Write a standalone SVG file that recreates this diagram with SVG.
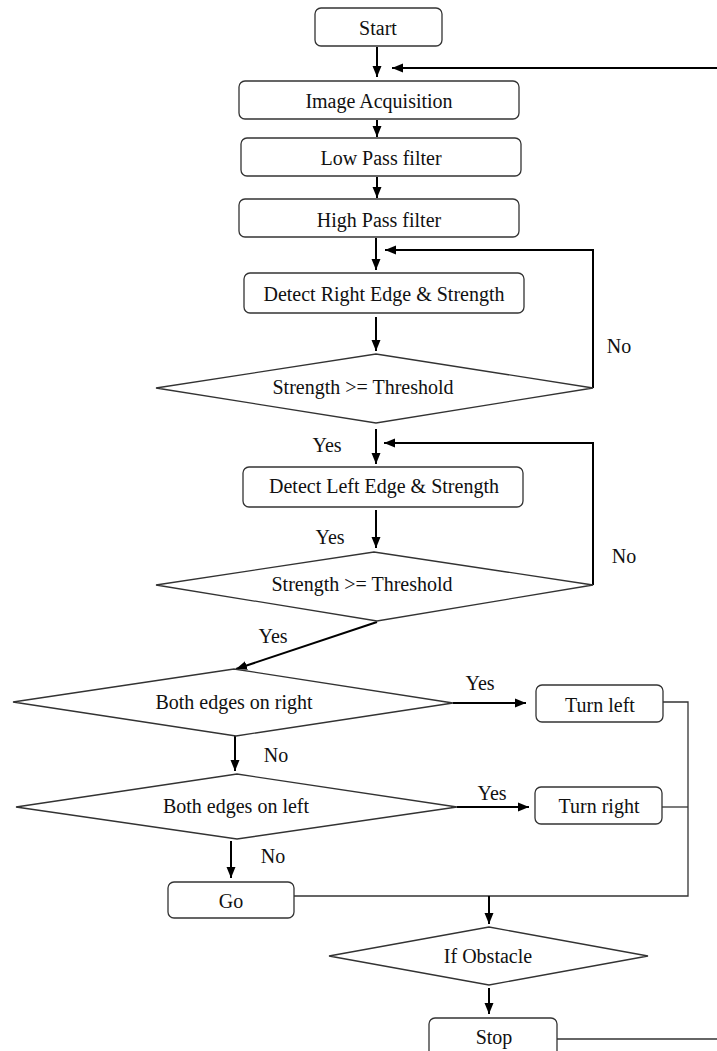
<svg xmlns="http://www.w3.org/2000/svg" width="717" height="1051" viewBox="0 0 717 1051">
<style>
.box{fill:#fff;stroke:#333;stroke-width:1.3}
.dia{fill:#fff;stroke:#333;stroke-width:1.3}
.t{font-family:'Liberation Serif','Times New Roman',serif;font-size:20px;fill:#111;text-anchor:middle}
.arr{fill:none;stroke:#000;stroke-width:2;marker-end:url(#ah)}
.thin{fill:none;stroke:#333;stroke-width:1.3}
</style>
<defs>
<marker id="ah" markerUnits="userSpaceOnUse" markerWidth="12" markerHeight="10" refX="11" refY="5" orient="auto">
<path d="M0,0.5 L11,5 L0,9.5 z" fill="#000"/>
</marker>
</defs>
<rect width="717" height="1051" fill="#fff"/>
<g id="connectors">
<line class="arr" x1="377" y1="47" x2="377" y2="77"/>
<line class="arr" x1="717" y1="68" x2="392" y2="68"/>
<line class="arr" x1="377" y1="120" x2="377" y2="137"/>
<line class="arr" x1="377" y1="177" x2="377" y2="198"/>
<line class="arr" x1="376" y1="238" x2="376" y2="270"/>
<polyline class="arr" points="593,388 593,250 385,250"/>
<line class="arr" x1="376" y1="317" x2="376" y2="351"/>
<line class="arr" x1="376" y1="429" x2="376" y2="464"/>
<polyline class="arr" points="593,585 593,443 384,443"/>
<line class="arr" x1="376" y1="510" x2="376" y2="548"/>
<line class="arr" x1="377" y1="622" x2="236" y2="669"/>
<line class="arr" x1="453" y1="703" x2="526" y2="703"/>
<line class="arr" x1="235" y1="736" x2="235" y2="771"/>
<line class="arr" x1="457" y1="807" x2="529" y2="807"/>
<line class="arr" x1="231" y1="841" x2="231" y2="878"/>
<polyline class="thin" points="663,702 688,702 688,896 294,896"/>
<line class="thin" x1="662" y1="807" x2="688" y2="807"/>
<line class="arr" x1="489" y1="896" x2="489" y2="924"/>
<line class="arr" x1="489" y1="988" x2="489" y2="1014"/>
<line class="thin" x1="557" y1="1039" x2="717" y2="1039"/>
</g>
<g id="start"><rect class="box" x="315" y="8" width="127" height="38" rx="6"/><text class="t" x="378" y="35">Start</text></g>
<g id="acq"><rect class="box" x="239" y="81" width="280" height="38" rx="6"/><text class="t" x="379" y="108">Image Acquisition</text></g>
<g id="lpf"><rect class="box" x="241" y="138" width="280" height="38" rx="6"/><text class="t" x="381" y="165">Low Pass filter</text></g>
<g id="hpf"><rect class="box" x="239" y="199" width="280" height="38" rx="6"/><text class="t" x="379" y="227">High Pass filter</text></g>
<g id="right-edge"><rect class="box" x="244" y="273" width="280" height="40" rx="6"/><text class="t" x="384" y="301">Detect Right Edge &amp; Strength</text></g>
<g id="thr1"><polygon class="dia" points="156,388 376,354 593,388 376,423"/><text class="t" x="363" y="394">Strength &gt;= Threshold</text></g>
<g id="left-edge"><rect class="box" x="243" y="467" width="280" height="40" rx="6"/><text class="t" x="384" y="493">Detect Left Edge &amp; Strength</text></g>
<g id="thr2"><polygon class="dia" points="156,585 374,552 593,585 377,621"/><text class="t" x="362" y="591">Strength &gt;= Threshold</text></g>
<g id="both-right"><polygon class="dia" points="13,702 234,669 453,703 236,736"/><text class="t" x="234" y="709">Both edges on right</text></g>
<g id="turn-left"><rect class="box" x="536" y="685" width="127" height="37" rx="6"/><text class="t" x="600" y="712">Turn left</text></g>
<g id="both-left"><polygon class="dia" points="16,807 237,774 457,807 237,839"/><text class="t" x="236" y="813">Both edges on left</text></g>
<g id="turn-right"><rect class="box" x="535" y="787" width="127" height="37" rx="6"/><text class="t" x="599" y="813">Turn right</text></g>
<g id="go"><rect class="box" x="168" y="882" width="126" height="36" rx="6"/><text class="t" x="231" y="908">Go</text></g>
<g id="obstacle"><polygon class="dia" points="329,956 489,927 648,956 489,985"/><text class="t" x="488" y="963">If Obstacle</text></g>
<g id="stop"><rect class="box" x="429" y="1018" width="128" height="45" rx="6"/><text class="t" x="494" y="1044">Stop</text></g>
<g id="labels">
<text class="t" x="619" y="353">No</text>
<text class="t" x="327" y="452">Yes</text>
<text class="t" x="330" y="544">Yes</text>
<text class="t" x="624" y="563">No</text>
<text class="t" x="273" y="643">Yes</text>
<text class="t" x="480" y="690">Yes</text>
<text class="t" x="276" y="762">No</text>
<text class="t" x="492" y="800">Yes</text>
<text class="t" x="273" y="863">No</text>
</g>
</svg>
